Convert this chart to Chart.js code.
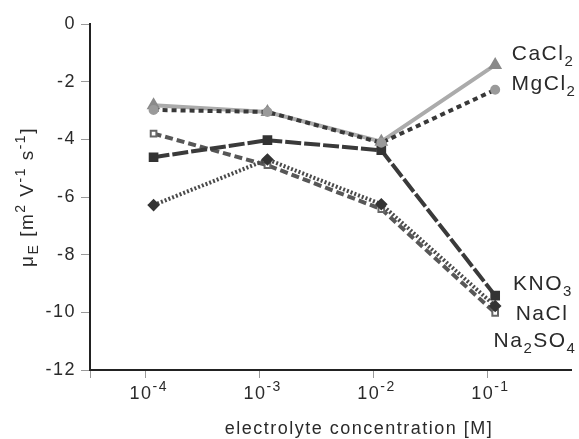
<!DOCTYPE html>
<html>
<head>
<meta charset="utf-8">
<script src="https://cdn.jsdelivr.net/npm/chart.js@4.4.1/dist/chart.umd.min.js"></script>
<style>
  html, body { margin: 0; padding: 0; background: #fff; }
  #wrap { width: 579px; height: 439px; }
</style>
</head>
<body>
<div id="wrap"><canvas id="mobilityChart" width="579" height="439"></canvas></div>
<script>
// electrolyte concentration [M] - points sit a little right of each decade tick
const concentrations = [1.17e-4, 1.17e-3, 1.17e-2, 1.17e-1];
const xTickValues = [1e-4, 1e-3, 1e-2, 1e-1];
const xTickExponents = ['-4', '-3', '-2', '-1'];
const yTickStep = 2;

// electrophoretic mobility, m2 V-1 s-1
const seriesNames = ['MgCl2', 'CaCl2', 'KNO3', 'NaCl', 'Na2SO4'];
const mgcl2 = [-2.98, -3.05, -4.12, -2.28];
const cacl2 = [-2.82, -3.05, -4.08, -1.42];
const kno3 = [-4.62, -4.03, -4.38, -9.42];
const nacl = [-6.28, -4.70, -6.25, -9.78];
const na2so4 = [-3.80, -4.90, -6.42, -10.02];

const FONT = 'Liberation Sans, Arial, sans-serif';

function pts(values) {
    return values.map((v, i) => ({ x: concentrations[i], y: v }));
}

// draw text made of parts: {t, m} where m is 'n', 'sup' or 'sub'
function drawParts(ctx, parts, x, y, align, big, small) {
    const widthOf = p => {
        ctx.font = (p.m === 'n' ? big : small) + 'px ' + FONT;
        return ctx.measureText(p.t).width;
    };
    const total = parts.reduce((s, p) => s + widthOf(p), 0);
    let cx = align === 'center' ? x - total / 2 : (align === 'right' ? x - total : x);
    ctx.textAlign = 'left';
    ctx.textBaseline = 'alphabetic';
    parts.forEach(p => {
        ctx.font = (p.m === 'n' ? big : small) + 'px ' + FONT;
        let dy = 0;
        if (p.m === 'sup') dy = -big * 0.42;
        if (p.m === 'sub') dy = big * 0.28;
        ctx.fillText(p.t, cx, y + dy);
        cx += ctx.measureText(p.t).width;
    });
}

// chemical formula -> digits as subscripts
function formulaParts(name) {
    return name.split(/(\d+)/).filter(s => s).map(s => ({ t: s, m: /\d/.test(s) ? 'sub' : 'n' }));
}

const textPlugin = {
    id: 'textPlugin',
    beforeDraw(chart) {
        chart.ctx.letterSpacing = '1.5px';
    },
    afterDraw(chart) {
        const ctx = chart.ctx;
        const xs = chart.scales.x;
        const ys = chart.scales.y;
        ctx.save();
        ctx.letterSpacing = '1.5px';
        ctx.fillStyle = '#2a2a2a';

        // x tick labels 10^n
        xTickValues.forEach((v, i) => {
            const px = xs.getPixelForValue(v);
            drawParts(ctx, [{ t: '10', m: 'n' }, { t: xTickExponents[i], m: 'sup' }], px + 3, 399, 'center', 18, 14);
        });

        // x axis title
        drawParts(ctx, [{ t: 'electrolyte concentration [M]', m: 'n' }], 359, 434, 'center', 18, 14);

        // y axis title, rotated
        ctx.save();
        ctx.translate(33, (ys.top + ys.bottom) / 2);
        ctx.rotate(-Math.PI / 2);
        drawParts(ctx, [
            { t: 'μ', m: 'n' }, { t: 'E', m: 'sub' }, { t: ' [m', m: 'n' }, { t: '2', m: 'sup' },
            { t: ' V', m: 'n' }, { t: '-1', m: 'sup' }, { t: ' s', m: 'n' }, { t: '-1', m: 'sup' }, { t: ']', m: 'n' }
        ], 0, 0, 'center', 19, 14);
        ctx.restore();

        // series labels next to the last points
        const labelPos = {
            'CaCl2': [543, 60], 'MgCl2': [544, 90], 'KNO3': [543, 290],
            'NaCl': [542, 320], 'Na2SO4': [535, 347]
        };
        seriesNames.forEach(n => {
            const p = labelPos[n];
            drawParts(ctx, formulaParts(n), p[0], p[1], 'center', 21, 15);
        });
        ctx.restore();
    }
};

const ctx = document.getElementById('mobilityChart').getContext('2d');
new Chart(ctx, {
    type: 'line',
    data: {
        datasets: [
            {
                label: 'MgCl2', data: pts(mgcl2),
                borderColor: '#383838', borderWidth: 4, borderDash: [5, 4],
                pointStyle: 'circle', pointRadius: 3,
                pointBackgroundColor: '#9a9a9a', pointBorderColor: '#9a9a9a'
            },
            {
                label: 'CaCl2', data: pts(cacl2),
                borderColor: '#ababab', borderWidth: 4,
                pointStyle: 'triangle', pointRadius: 4,
                pointBackgroundColor: '#8a8a8a', pointBorderColor: '#8a8a8a'
            },
            {
                label: 'KNO3', data: pts(kno3),
                borderColor: '#3a3a3a', borderWidth: 4, borderDash: [16, 3],
                pointStyle: 'rect', pointRadius: 4,
                pointBackgroundColor: '#333', pointBorderColor: '#333'
            },
            {
                label: 'NaCl', data: pts(nacl),
                borderColor: '#4a4a4a', borderWidth: 4, borderDash: [2, 2],
                pointStyle: 'rectRot', pointRadius: 3.5,
                pointBackgroundColor: '#333', pointBorderColor: '#333'
            },
            {
                label: 'Na2SO4', data: pts(na2so4),
                borderColor: '#575757', borderWidth: 4, borderDash: [8, 4],
                pointStyle: 'rect', pointRadius: 4, pointBorderWidth: 2,
                pointBackgroundColor: '#fff', pointBorderColor: '#666'
            }
        ]
    },
    options: {
        responsive: false,
        animation: false,
        events: [],
        layout: { padding: { top: 24, right: 0, left: 0, bottom: 0 } },
        plugins: { legend: { display: false }, tooltip: { enabled: false } },
        elements: { line: { tension: 0 } },
        scales: {
            x: {
                type: 'logarithmic',
                min: Math.pow(10, -4.49),
                max: Math.pow(10, -0.266),
                afterBuildTicks: s => { s.ticks = [s.min].concat(xTickValues).map(v => ({ value: v })); },
                afterFit: s => { s.height = 69; },
                ticks: { autoSkip: false, callback: () => '' },
                grid: { drawOnChartArea: false, tickLength: 8, color: '#999', lineWidth: 1 },
                border: { color: '#222', width: 2 }
            },
            y: {
                min: -12, max: 0,
                afterFit: s => { s.width = 90; },
                ticks: { stepSize: yTickStep, padding: 5, color: '#2a2a2a', font: { family: FONT, size: 18 } },
                grid: { drawOnChartArea: false, tickLength: 9, color: '#999', lineWidth: 1 },
                border: { color: '#222', width: 2 }
            }
        }
    },
    plugins: [textPlugin]
});
</script>
</body>
</html>
